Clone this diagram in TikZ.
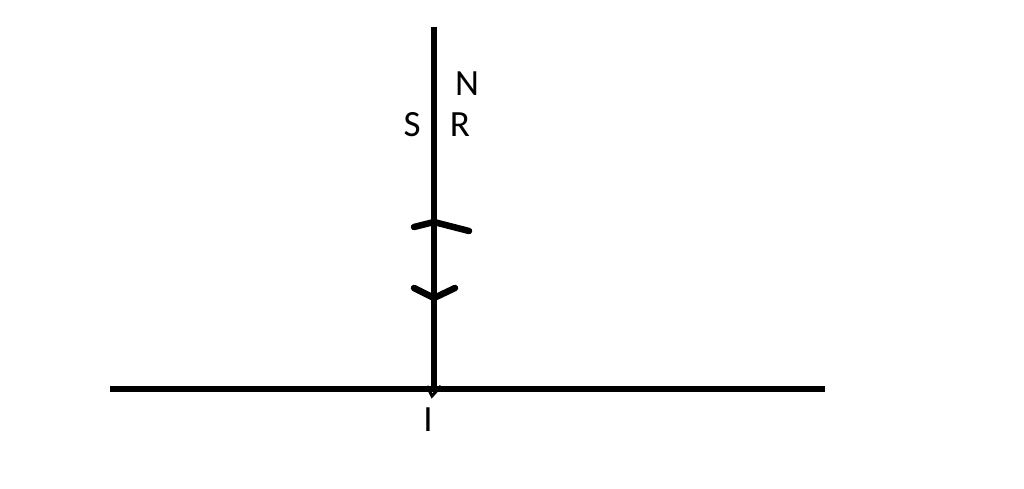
\documentclass[tikz,border=0pt]{standalone}
\usepackage{fontspec}
\setmainfont{Carlito}
\usetikzlibrary{positioning}

\begin{document}
\begin{tikzpicture}[x=1pt,y=-1pt,line width=5.5pt,
  lbl/.style={font=\fontsize{37}{40}\selectfont,inner sep=0pt}]
\useasboundingbox (0,0) rectangle (1024,489);
\coordinate (top) at (434,27);
\coordinate (foot) at (434,391);
\coordinate (left) at (110,389);
\coordinate (right) at (825,389);
\node[lbl] (N) at (467,84) {N};
\node[lbl] (S) at (412,125) {S};
\node[lbl] (R) at (460,125) {R};
\node[lbl] (I) at (428,420) {I};
\path[draw]
(top) edge [] (foot)
(left) edge [] (right)
;
% marks on the ray
\draw[line width=6.5pt,line cap=round] (414,227) -- (434,222) -- (469,231);
\draw[line width=6.5pt,line cap=round] (414,288) -- (434,298) -- (455,288);
\draw[line width=3pt] (427,386) -- (432,396) -- (441,386);
\end{tikzpicture}
\end{document}
